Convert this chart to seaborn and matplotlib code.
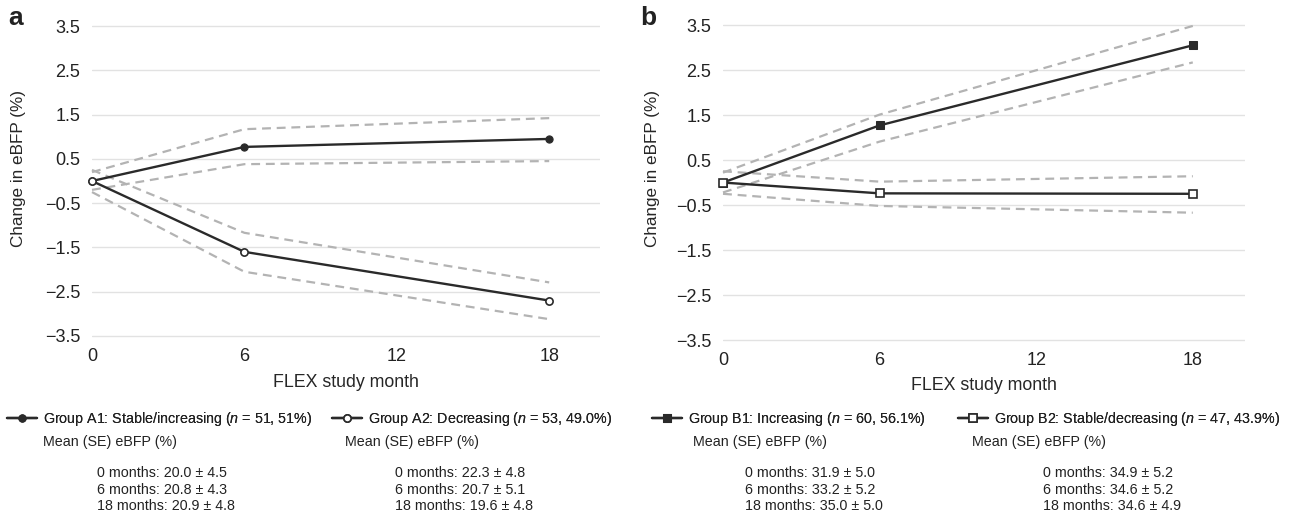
import matplotlib
matplotlib.use('Agg')
import matplotlib.pyplot as plt
import seaborn as sns

# x values (FLEX study month)
months = [0, 6, 18]

# panel a: change in eBFP (%) with upper/lower CI bounds
a1_mean = [0.0, 0.77, 0.95]
a1_upper = [0.20, 1.17, 1.42]
a1_lower = [-0.20, 0.38, 0.45]
a2_mean = [0.0, -1.60, -2.70]
a2_upper = [0.25, -1.17, -2.29]
a2_lower = [-0.25, -2.05, -3.12]

# panel b
b1_mean = [0.0, 1.27, 3.05]
b1_upper = [0.22, 1.51, 3.48]
b1_lower = [-0.22, 0.91, 2.67]
b2_mean = [0.0, -0.24, -0.25]
b2_upper = [0.25, 0.02, 0.14]
b2_lower = [-0.25, -0.52, -0.67]

y_ticks = [-3.5, -2.5, -1.5, -0.5, 0.5, 1.5, 2.5, 3.5]
x_ticks = [0, 6, 12, 18]

a_groups = ['Group A1: Stable/increasing ($n$ = 51, 51%)',
            'Group A2: Decreasing ($n$ = 53, 49.0%)']
b_groups = ['Group B1: Increasing ($n$ = 60, 56.1%)',
            'Group B2: Stable/decreasing ($n$ = 47, 43.9%)']
stats_title = 'Mean (SE) eBFP (%)'
a1_stats = ['0 months: 20.0 ± 4.5', '6 months: 20.8 ± 4.3', '18 months: 20.9 ± 4.8']
a2_stats = ['0 months: 22.3 ± 4.8', '6 months: 20.7 ± 5.1', '18 months: 19.6 ± 4.8']
b1_stats = ['0 months: 31.9 ± 5.0', '6 months: 33.2 ± 5.2', '18 months: 35.0 ± 5.0']
b2_stats = ['0 months: 34.9 ± 5.2', '6 months: 34.6 ± 5.2', '18 months: 34.6 ± 4.9']

sns.set_theme(style='white')
plt.rcParams['font.family'] = ['Liberation Sans', 'DejaVu Sans']
plt.rcParams['mathtext.fontset'] = 'custom'
plt.rcParams['mathtext.it'] = 'Liberation Sans:italic'
plt.rcParams['mathtext.rm'] = 'Liberation Sans'
plt.rcParams['text.color'] = '#222222'

W, H = 1297, 520
fig = plt.figure(figsize=(W / 100, H / 100), dpi=100)

line_col = '#2a2a2a'
ci_col = '#b3b3b3'


def fx(px):
    return px / W


def fy(px):
    return 1 - px / H


def draw_panel(ax, mean1, up1, lo1, mean2, up2, lo2, marker, msize):
    for vals in [up1, lo1, up2, lo2]:
        sns.lineplot(x=months, y=vals, ax=ax, color=ci_col, lw=1.6,
                     linestyle=(0, (4, 2.6)), clip_on=False, errorbar=None)
    h1 = sns.lineplot(x=months, y=mean1, ax=ax, color=line_col, lw=1.7,
                      marker=marker, markersize=msize, markerfacecolor=line_col,
                      markeredgecolor=line_col, clip_on=False, zorder=5,
                      errorbar=None).lines[-1]
    h2 = sns.lineplot(x=months, y=mean2, ax=ax, color=line_col, lw=1.7,
                      marker=marker, markersize=msize, markerfacecolor='white',
                      markeredgecolor=line_col, markeredgewidth=1.2,
                      clip_on=False, zorder=6, errorbar=None).lines[-1]
    ax.set_xlim(0, 20)
    ax.set_ylim(-3.55, 3.55)
    ax.set_xticks(x_ticks)
    ax.set_xticklabels([str(t) for t in x_ticks])
    ax.set_yticks(y_ticks)
    ax.set_yticklabels([f'{t:.1f}'.replace('-', '\u2212') for t in y_ticks])
    ax.yaxis.grid(True, color='#e2e2e2', lw=1)
    ax.xaxis.grid(False)
    for s in ax.spines.values():
        s.set_visible(False)
    ax.tick_params(axis='both', length=0, labelsize=13, labelcolor='#222222')
    ax.tick_params(axis='x', pad=7)
    ax.tick_params(axis='y', pad=8.5)
    ax.set_xlabel('FLEX study month', fontsize=12.8)
    ax.set_ylabel('Change in eBFP (%)', fontsize=12.3)
    return h1, h2


# axes placed to match the reference pixel layout
ax_a = fig.add_axes([fx(92), fy(338.2), fx(508), 314.4 / H])
ax_b = fig.add_axes([fx(723), fy(342.3), fx(522), 319.5 / H])

ha = draw_panel(ax_a, a1_mean, a1_upper, a1_lower, a2_mean, a2_upper, a2_lower, 'o', 5.2)
hb = draw_panel(ax_b, b1_mean, b1_upper, b1_lower, b2_mean, b2_upper, b2_lower, 's', 6)

ax_a.xaxis.set_label_coords(0.5, (338.2 - 374) / 314.4)
ax_b.xaxis.set_label_coords(0.5, (342.3 - 377) / 319.5)
ax_a.yaxis.set_label_coords((26 - 92) / 508, 0.541)
ax_b.yaxis.set_label_coords((660 - 723) / 522, 0.545)

fig.text(fx(8), fy(18), 'a', fontsize=19, fontweight='bold', va='center')
fig.text(fx(640), fy(18), 'b', fontsize=19, fontweight='bold', va='center')

# legends, one entry per column
legend_y = 419
for ax, handles, labels, xs in [(ax_a, ha, a_groups, [7, 332]),
                                (ax_b, hb, b_groups, [652, 958])]:
    for h, lab, x in zip(handles, labels, xs):
        leg = fig.legend([h], [lab], loc='center left',
                         bbox_to_anchor=(fx(x), fy(legend_y)),
                         frameon=False, borderpad=0, borderaxespad=0,
                         handlelength=2.1, handletextpad=0.45, fontsize=10.3)
        fig.add_artist(leg)

# stats text blocks
blocks = [(a1_stats, 43, 97), (a2_stats, 345, 395),
          (b1_stats, 693, 745), (b2_stats, 972, 1043)]
for lines, x_title, x_lines in blocks:
    fig.text(fx(x_title), fy(442), stats_title, fontsize=10.3, va='center')
    for i, line in enumerate(lines):
        fig.text(fx(x_lines), fy(473 + 16.7 * i), line, fontsize=10.3, va='center')

fig.savefig('out.png', dpi=100)
